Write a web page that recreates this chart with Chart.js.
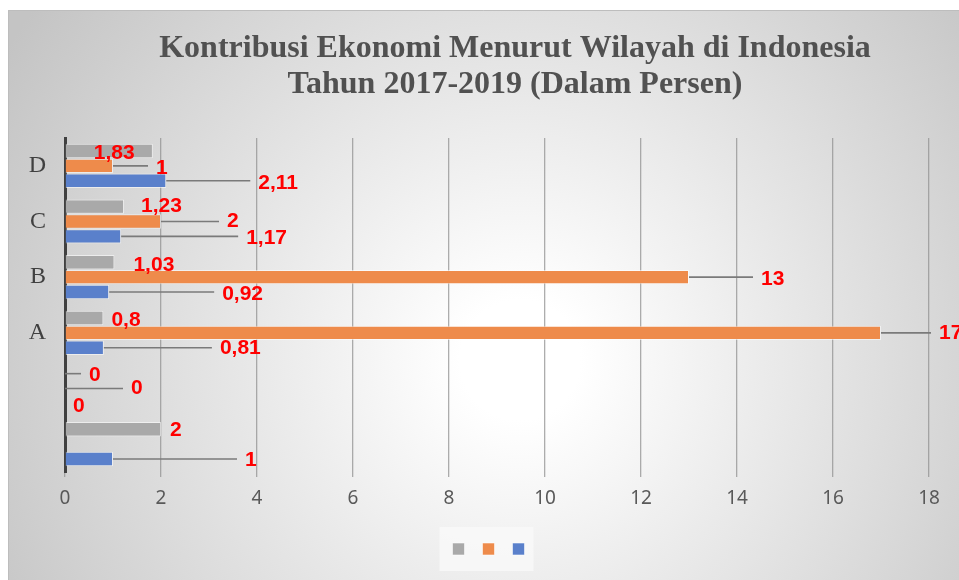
<!DOCTYPE html>
<html>
<head>
<meta charset="utf-8">
<script src="https://cdn.jsdelivr.net/npm/chart.js@4.4.0/dist/chart.umd.min.js"></script>
<style>
  html, body { margin: 0; padding: 0; background: #fff; overflow: hidden; }
</style>
</head>
<body>
<canvas id="myChart" width="959" height="580"></canvas>
<script>
// data (top category first)
const categories = ["D", "C", "B", "A", "", ""];
const grayValues = [1.83, 1.23, 1.03, 0.8, 0, 2];
const orangeValues = [1, 2, 13, 17, 0, null];
const blueValues = [2.11, 1.17, 0.92, 0.81, 0, 1];
const xTickValues = [0, 2, 4, 6, 8, 10, 12, 14, 16, 18];
const titleLines = ["Kontribusi Ekonomi Menurut Wilayah di Indonesia", "Tahun 2017-2019 (Dalam Persen)"];

// where each value label sits, in px from the end of its bar: [dx, dy]
const grayLabelPos = [[-59, 2], [17, 0], [19, 3], [8, 2], [24, 2], [9, 1]];
const orangeLabelPos = [[43, 2], [66, 0], [72, 2], [58, 0], [66, 0], [0, 0]];
const blueLabelPos = [[92, 3], [125, 2], [113, 2], [116, 1], [8, 3], [132, 1]];
const labelPositions = [grayLabelPos, orangeLabelPos, blueLabelPos];

const fmt = v => String(v).replace(".", ",");

const backgroundPlugin = {
  id: "background",
  afterLayout(chart) {
    // the legend sits a little right of the canvas centre
    chart.legend.left += 23;
    chart.legend.right += 23;
  },
  beforeDraw(chart) {
    const ctx = chart.ctx;
    ctx.save();
    ctx.fillStyle = "#ffffff";
    ctx.fillRect(0, 0, chart.width, chart.height);
    const g = ctx.createRadialGradient(520, 360, 60, 520, 360, 600);
    g.addColorStop(0, "#ffffff");
    g.addColorStop(1, "#c4c4c4");
    ctx.fillStyle = g;
    ctx.fillRect(8, 10, chart.width - 8, chart.height - 10);
    ctx.strokeStyle = "#bdbdbd";
    ctx.lineWidth = 1;
    ctx.beginPath();
    ctx.moveTo(8.5, chart.height);
    ctx.lineTo(8.5, 10.5);
    ctx.lineTo(chart.width, 10.5);
    ctx.stroke();

    // light box behind the legend
    const hb = chart.legend && chart.legend.legendHitBoxes;
    if (hb && hb.length) {
      const x0 = hb[0].left - 13, x1 = hb[hb.length - 1].left + 12 + 9;
      ctx.fillStyle = "rgba(250,250,250,0.75)";
      ctx.fillRect(x0, hb[0].top - 16, x1 - x0, 44);
    }

    // title
    ctx.fillStyle = "#515151";
    ctx.font = "bold 32px 'Liberation Serif'";
    ctx.textAlign = "center";
    ctx.textBaseline = "alphabetic";
    ctx.fillText(titleLines[0], 515, 57);
    ctx.fillText(titleLines[1], 515, 93);
    ctx.restore();
  }
};

const valueLabelPlugin = {
  id: "valueLabels",
  afterDatasetsDraw(chart) {
    const ctx = chart.ctx;
    ctx.save();
    chart.data.datasets.forEach((ds, di) => {
      const meta = chart.getDatasetMeta(di);
      meta.data.forEach((bar, i) => {
        const v = ds.data[i];
        if (v === null || v === undefined) return;
        const [dx, dy] = labelPositions[di][i];
        const lx = bar.x + dx;
        if (dx - 8 >= 14) {
          ctx.strokeStyle = "#7a7a7a";
          ctx.lineWidth = 1.6;
          ctx.beginPath();
          ctx.moveTo(bar.x, bar.y);
          ctx.lineTo(lx - 8, bar.y);
          ctx.stroke();
        }
        ctx.fillStyle = "#ff0000";
        ctx.font = "bold 21px 'Liberation Sans'";
        ctx.textAlign = "left";
        ctx.textBaseline = "middle";
        ctx.fillText(fmt(v), lx, bar.y + dy);
      });
    });
    ctx.restore();
  }
};

const myChartRef = document.getElementById("myChart").getContext("2d");

new Chart(myChartRef, {
  type: "bar",
  data: {
    labels: categories,
    datasets: [
      { label: "", data: grayValues, backgroundColor: "#a9a9a9", borderColor: "rgba(255,255,255,0.55)", borderWidth: 1 },
      { label: "", data: orangeValues, backgroundColor: "#ee8b4b", borderColor: "rgba(255,255,255,0.55)", borderWidth: 1 },
      { label: "", data: blueValues, backgroundColor: "#5a80cb", borderColor: "rgba(255,255,255,0.55)", borderWidth: 1 }
    ]
  },
  options: {
    indexAxis: "y",
    responsive: false,
    animation: false,
    categoryPercentage: 0.8,
    barPercentage: 0.97,
    layout: { padding: { left: 8, right: 30, top: 138, bottom: 15 } },
    plugins: {
      title: { display: false },
      tooltip: { enabled: false },
      legend: {
        position: "bottom",
        labels: { boxWidth: 12, boxHeight: 12, padding: 12, font: { size: 12 } }
      }
    },
    scales: {
      x: {
        min: 0,
        max: 18,
        afterBuildTicks: s => { s.ticks = xTickValues.map(v => ({ value: v })); },
        afterFit: s => { s.height = 59; },
        grid: { color: "rgba(145,145,145,0.75)", lineWidth: 1.3, tickLength: 5 },
        border: { display: false },
        ticks: { color: "#595959", padding: 10, font: { family: "'Noto Sans'", size: 19 } }
      },
      y: {
        afterFit: s => { s.width = 57; },
        grid: { display: false, drawTicks: false },
        border: { display: true, color: "#404040", width: 3 },
        ticks: { color: "#404040", padding: 19, font: { family: "'Liberation Serif'", size: 24 } }
      }
    }
  },
  plugins: [backgroundPlugin, valueLabelPlugin]
});
</script>
</body>
</html>
